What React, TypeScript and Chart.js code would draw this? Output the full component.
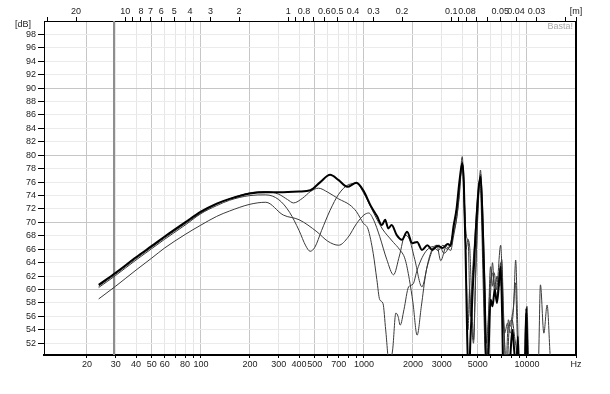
import React, { useEffect, useRef } from "react";
import { Chart, registerables } from "chart.js";
Chart.register(...registerables);

// ---- axis definitions ----
const freqMin = 10.9;
const freqMax = 20000;
const dbMin = 50.25;
const dbMax = 100;
const soundSpeed = 343;

const freqTickValues = [20, 30, 40, 50, 60, 70, 80, 90, 100, 200, 300, 400, 500, 600, 700, 800, 900, 1000, 2000, 3000, 4000, 5000, 6000, 7000, 8000, 9000, 10000, 20000];
const freqTickLabels = ["20", "30", "40", "50", "60", "", "80", "", "100", "200", "300", "400", "500", "", "700", "", "", "1000", "2000", "3000", "", "5000", "", "", "", "", "10000", "Hz"];
const freqMajorGrid = [20, 50, 100, 200, 500, 1000, 2000, 5000, 10000];

const wavelengthValues = [30, 20, 10, 9, 8, 7, 6, 5, 4, 3, 2, 1, 0.9, 0.8, 0.7, 0.6, 0.5, 0.4, 0.3, 0.2, 0.1, 0.09, 0.08, 0.07, 0.06, 0.05, 0.04, 0.03, 0.02];
const wavelengthLabels = ["", "20", "10", "", "8", "7", "6", "5", "4", "3", "2", "1", "", "0.8", "", "0.6", "0.5", "0.4", "0.3", "0.2", "0.1", "", "0.08", "", "", "0.05", "0.04", "0.03", ""];

const dbTickValues = [52, 54, 56, 58, 60, 62, 64, 66, 68, 70, 72, 74, 76, 78, 80, 82, 84, 86, 88, 90, 92, 94, 96, 98];
const markerFreq = 29.3;

// ---- series ----
const freqA = [23.6, 30, 40, 50, 60, 80, 100, 125, 150, 200, 250, 300, 400, 470, 540, 620, 700, 790, 900, 1000, 1100, 1205, 1290, 1350, 1410, 1480, 1590, 1710, 1840, 1980, 2120, 2270, 2450, 2630, 2830, 3040, 3270, 3400, 3550, 3700, 3850, 4010, 4100, 4200, 4300, 4400, 4500, 4650, 4850, 5050, 5200, 5350, 5500, 5650, 5800, 5980, 6150, 6350, 6550, 6900, 7050, 7200, 7600, 7900, 8150, 8350, 8600, 8800, 9000, 9700, 9900, 10150, 10500];
const dbA = [60.7, 62.5, 64.8, 66.5, 67.9, 70.0, 71.6, 72.8, 73.5, 74.3, 74.5, 74.5, 74.6, 74.8, 76.0, 77.1, 76.3, 75.3, 75.9, 74.6, 72.5, 70.9, 69.6, 70.4, 69.1, 69.6, 68.1, 67.4, 68.6, 66.9, 67.1, 65.9, 66.6, 65.9, 66.5, 66.2, 66.8, 66.5, 69.5, 72.0, 76.0, 78.8, 76.0, 66.0, 53.0, 46.0, 52.5, 60.0, 68.5, 75.0, 76.8, 70.0, 60.0, 48.0, 50.0, 58.5, 57.5, 60.0, 58.0, 63.4, 56.0, 46.0, 45.0, 50.0, 54.0, 51.0, 48.0, 53.0, 45.0, 47.0, 57.2, 47.0, 45.0];

const freqB = [23.6, 30, 40, 50, 60, 80, 100, 125, 150, 200, 250, 300, 340, 370, 420, 470, 526, 600, 700, 820, 900, 990, 1060, 1140, 1200, 1250, 1310, 1360, 1430, 1500, 1570, 1620, 1670, 1760, 1880, 2000, 2120, 2280, 2440, 2650, 2850, 3050, 3250, 3420, 3550, 3700, 3850, 4010, 4120, 4230, 4330, 4450, 4560, 4700, 4850, 5000, 5190, 5350, 5500, 5650, 5800, 5980, 6150, 6300, 6500, 6900, 7050, 7200, 7450, 7700, 7900, 8100, 8300, 8530, 8750, 8950, 9500, 9900, 10200, 11000];
const dbB = [60.5, 62.3, 64.6, 66.3, 67.7, 69.8, 71.4, 72.7, 73.5, 74.4, 74.6, 74.2, 73.4, 72.9, 73.6, 74.6, 75.1, 74.5, 73.5, 72.6, 71.6, 69.9, 69.0, 65.4, 61.5, 58.5, 57.9, 54.0, 49.0, 51.0, 56.5, 56.0, 54.7, 57.0, 60.4, 60.8, 62.9, 64.8, 65.9, 66.4, 65.8, 66.6, 66.0, 66.8, 68.5, 70.5, 74.5, 79.8, 74.0, 68.4, 67.5, 66.5, 60.0, 52.5, 63.0, 71.0, 77.8, 68.0, 55.0, 47.0, 55.0, 63.4, 60.5, 62.5, 60.0, 66.6, 62.0, 55.0, 49.0, 55.5, 54.5, 56.0, 58.0, 64.4, 56.0, 48.0, 45.0, 56.5, 47.0, 45.0];

const freqC = [23.6, 30, 40, 50, 60, 80, 100, 125, 150, 200, 250, 300, 350, 400, 440, 468, 500, 550, 620, 700, 800, 900, 1000, 1100, 1200, 1300, 1400, 1520, 1650, 1790, 1900, 2000, 2120, 2250, 2400, 2600, 2800, 2960, 3200, 3400, 3550, 3700, 3850, 3950, 4050, 4150, 4250, 4350, 4450, 4550, 4700, 4850, 5000, 5150, 5250, 5400, 5550, 5700, 5850, 6000, 6150, 6350, 6550, 6800, 7000, 7200, 7500, 7800, 8100, 8400, 8700, 9000];
const dbC = [60.3, 62.1, 64.4, 66.1, 67.5, 69.6, 71.3, 72.5, 73.3, 74.0, 74.1, 73.4, 71.5, 68.8, 66.5, 65.7, 66.3, 68.8, 71.8, 74.2, 75.6, 75.8, 74.3, 72.3, 70.5, 69.0, 68.0, 67.0, 66.0, 64.5, 61.5, 58.0, 53.2, 57.5, 62.5, 65.8, 66.6, 64.3, 66.4, 65.8, 68.0, 70.5, 74.0, 77.5, 78.5, 72.0, 62.0, 54.0, 60.0, 56.0, 52.0, 62.0, 72.0, 76.5, 72.0, 60.0, 50.0, 47.0, 54.0, 60.0, 64.0, 59.0, 62.0, 60.5, 64.5, 56.0, 47.0, 54.5, 55.5, 53.0, 50.0, 45.0];

const freqD = [23.6, 30, 40, 50, 60, 80, 100, 125, 150, 200, 250, 320, 400, 515, 600, 700, 800, 900, 1000, 1070, 1150, 1250, 1380, 1520, 1650, 1790, 1900, 2050, 2270, 2450, 2650, 2900, 3100, 3300, 3450, 3600, 3750, 3900, 4010, 4120, 4230, 4350, 4500, 4650, 4800, 4950, 5100, 5200, 5350, 5500, 5650, 5800, 5950, 6100, 6300, 6500, 6700, 6900, 7100, 7300, 7600, 7900, 8200, 8500, 8700, 8900, 9300, 9700, 10000, 10300, 10800, 11400, 11800, 12100, 12700, 13300, 13900, 14400];
const dbD = [58.6, 60.5, 62.9, 64.7, 66.2, 68.2, 69.6, 70.9, 71.7, 72.7, 73.0, 71.1, 70.4, 68.6, 67.2, 66.6, 67.8, 69.8, 71.1, 71.4, 70.3, 67.9, 64.5, 62.2, 65.0, 68.1, 67.5, 64.5, 60.4, 63.5, 66.0, 66.6, 65.4, 66.2, 67.5, 70.0, 73.0, 76.5, 79.0, 72.0, 66.0, 67.5, 56.0, 63.0, 68.0, 73.0, 76.0, 77.2, 72.0, 62.0, 52.0, 56.0, 60.5, 62.5, 61.0, 58.5, 61.0, 64.0, 57.0, 53.5, 55.0, 53.5, 56.0, 61.0, 54.0, 47.0, 45.0, 48.0, 57.5, 47.0, 45.0, 45.0, 50.0, 60.7, 53.5, 57.7, 50.0, 46.0];

const FONT = '"Liberation Sans", Arial, sans-serif';

const decorPlugin = {
  id: "decor",
  beforeDatasetsDraw(chart: any) {
    const { ctx, chartArea, scales } = chart;
    const px = Math.round(scales.x.getPixelForValue(markerFreq));
    ctx.save();
    ctx.strokeStyle = "#8e8e8e";
    ctx.lineWidth = 2;
    ctx.beginPath();
    ctx.moveTo(px, chartArea.top);
    ctx.lineTo(px, chartArea.bottom);
    ctx.stroke();
    ctx.restore();
  },
  afterDraw(chart: any) {
    const { ctx, chartArea } = chart;
    ctx.save();
    ctx.strokeStyle = "#000";
    ctx.lineWidth = 2;
    ctx.beginPath();
    ctx.moveTo(chartArea.right, chartArea.top);
    ctx.lineTo(chartArea.right, chartArea.bottom + 1);
    ctx.stroke();
    ctx.fillStyle = "#222";
    ctx.font = `9px ${FONT}`;
    ctx.textAlign = "left";
    ctx.textBaseline = "middle";
    ctx.fillText("[dB]", 15, 25);
    ctx.fillStyle = "#a8a8a8";
    ctx.font = `9px ${FONT}`;
    ctx.textAlign = "right";
    ctx.fillText("Basta!", chartArea.right - 3, 27);
    ctx.restore();
  },
};

export default function App() {
  const ref = useRef<HTMLCanvasElement>(null);
  useEffect(() => {
    const canvas = ref.current!;
    const mk = (f: number[], d: number[]) => f.map((x, i) => ({ x, y: d[i] }));
    const line = (f: number[], d: number[], color: string, w: number) => ({
      data: mk(f, d),
      borderColor: color,
      borderWidth: w,
      pointRadius: 0,
      cubicInterpolationMode: "monotone",
      fill: false,
      clip: 0,
    });
    const topFreqs = wavelengthValues.map((l) => soundSpeed / l);
    topFreqs.push(freqMax);
    const topLabels = [...wavelengthLabels, "[m]"];

    const chart = new Chart(canvas, {
      type: "line",
      data: {
        datasets: [
          line(freqA, dbA, "#000", 2),
          line(freqB, dbB, "#3a3a3a", 1),
          line(freqC, dbC, "#3a3a3a", 1),
          line(freqD, dbD, "#3a3a3a", 1),
        ] as any,
      },
      options: {
        animation: false,
        responsive: false,
        maintainAspectRatio: false,
        layout: { padding: { left: 0, right: 34, top: 0, bottom: 0 } },
        plugins: { legend: { display: false }, tooltip: { enabled: false } },
        scales: {
          x: {
            type: "logarithmic",
            position: "bottom",
            min: freqMin,
            max: freqMax,
            afterBuildTicks: (s: any) => {
              s.ticks = freqTickValues.map((v) => ({ value: v }));
            },
            afterFit: (s: any) => {
              s.height = 39;
            },
            ticks: {
              autoSkip: false,
              maxRotation: 0,
              minRotation: 0,
              padding: 1,
              color: "#222",
              font: { family: FONT, size: 9 },
              callback: (_v: any, i: number) => freqTickLabels[i],
            },
            grid: {
              color: (c: any) => {
                const v = c.tick && c.tick.value;
                if (v === freqMax) return "rgba(0,0,0,0)";
                return freqMajorGrid.includes(v) ? "#c6c6c6" : "#e6e6e6";
              },
              tickColor: "#000",
              tickLength: 3,
              drawTicks: true,
            },
            border: { display: true, color: "#000", width: 2 },
          },
          xTop: {
            type: "logarithmic",
            position: "top",
            axis: "x",
            min: freqMin,
            max: freqMax,
            afterBuildTicks: (s: any) => {
              s.ticks = topFreqs.map((v) => ({ value: v }));
            },
            afterFit: (s: any) => {
              s.height = 21;
            },
            ticks: {
              autoSkip: false,
              maxRotation: 0,
              minRotation: 0,
              padding: 0,
              color: "#222",
              font: { family: FONT, size: 9 },
              callback: (_v: any, i: number) => topLabels[i],
            },
            grid: {
              drawOnChartArea: false,
              drawTicks: true,
              tickLength: 4,
              tickColor: "#000",
            },
            border: { display: true, color: "#000", width: 1 },
          },
          y: {
            type: "linear",
            position: "left",
            min: dbMin,
            max: dbMax,
            afterBuildTicks: (s: any) => {
              s.ticks = dbTickValues.map((v) => ({ value: v }));
            },
            afterFit: (s: any) => {
              s.width = 44;
            },
            ticks: {
              autoSkip: false,
              padding: 2,
              color: "#222",
              font: { family: FONT, size: 9 },
              callback: (v: any) => String(v),
            },
            grid: {
              color: (c: any) => {
                const v = c.tick && c.tick.value;
                return v % 10 === 0 ? "#c6c6c6" : "#ebebeb";
              },
              tickColor: "#000",
              tickLength: 6,
            },
            border: { display: true, color: "#000", width: 1 },
          },
        },
      } as any,
      plugins: [decorPlugin],
    });
    return () => chart.destroy();
  }, []);
  return (
    <div style={{ position: "fixed", left: 0, top: 0, width: 610, height: 394, background: "#fff" }}>
      <canvas ref={ref} width={610} height={394} style={{ display: "block" }} />
    </div>
  );
}
